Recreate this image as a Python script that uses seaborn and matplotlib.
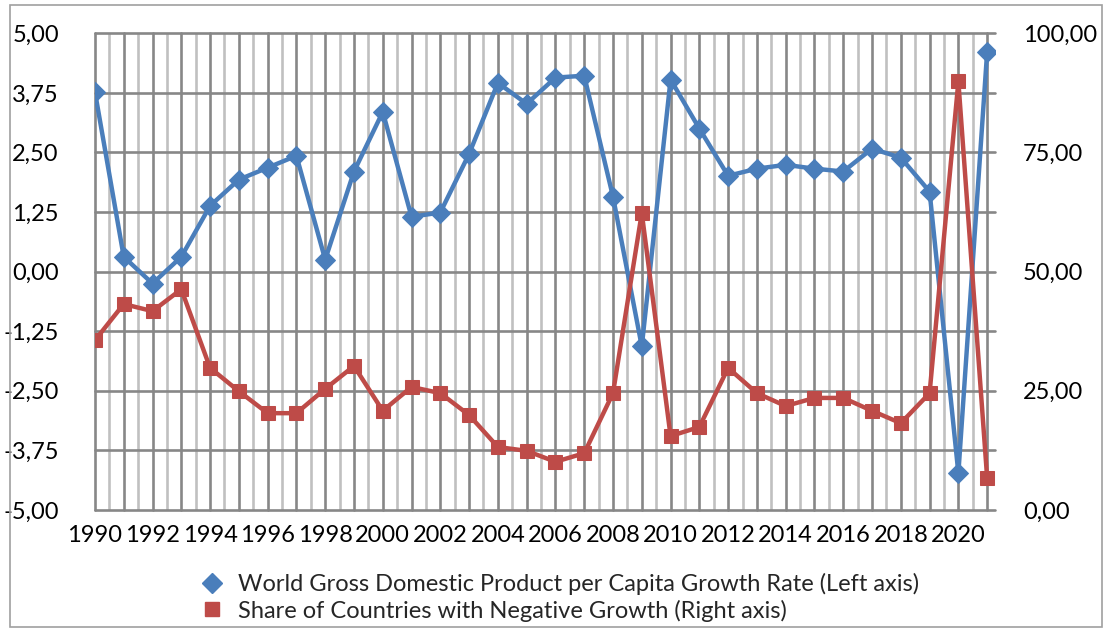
import numpy as np
import pandas as pd
import matplotlib
matplotlib.use("Agg")
import matplotlib.pyplot as plt
from matplotlib.ticker import MultipleLocator, FuncFormatter
from matplotlib.patches import Rectangle
from matplotlib.lines import Line2D
import seaborn as sns

# data
years = list(range(1990, 2022))
gdp_growth = [3.77, 0.31, -0.25, 0.31, 1.38, 1.93, 2.18, 2.43, 0.25, 2.10,
              3.35, 1.15, 1.24, 2.47, 3.96, 3.52, 4.07, 4.11, 1.57, -1.57,
              4.03, 3.00, 2.01, 2.16, 2.24, 2.16, 2.10, 2.58, 2.39, 1.68,
              -4.23, 4.61]
neg_share = [35.6, 43.2, 41.7, 46.3, 29.8, 24.9, 20.3, 20.3, 25.4, 30.2,
             20.8, 25.8, 24.5, 19.9, 13.2, 12.4, 10.1, 11.9, 24.5, 62.3,
             15.5, 17.4, 29.8, 24.5, 21.8, 23.5, 23.5, 20.8, 18.2, 24.5,
             89.9, 6.7]
label_gdp = 'World Gross Domestic Product per Capita Growth Rate (Left axis)'
label_neg = 'Share of Countries with Negative Growth (Right axis)'

df = pd.DataFrame({'year': years, 'gdp': gdp_growth, 'neg': neg_share})

#colours
BLUE = '#4A7EBB'
RED = '#BE4B48'
FS = 17

sns.set_style('white')
plt.rcParams['font.family'] = ['Lato', 'DejaVu Sans']

fig = plt.figure(figsize=(11.08, 6.28), dpi=100)
ax1 = fig.add_axes([0.0857, 0.188, 0.8125, 0.759])
ax2 = ax1.twinx()

sns.lineplot(data=df, x='year', y='gdp', ax=ax1, color=BLUE, lw=3.2,
             marker='D', markersize=10.5, markeredgecolor=BLUE, label=label_gdp,
             legend=False, zorder=3)
sns.lineplot(data=df, x='year', y='neg', ax=ax2, color=RED, lw=3.2,
             marker='s', markersize=10, markeredgecolor=RED, label=label_neg,
             legend=False, zorder=3)

#axes ranges
ax1.set_xlim(1990, 2021.28)
ax1.set_ylim(-5, 5)
ax2.set_ylim(0, 100)

comma = lambda v, p: f'{v:.2f}'.replace('.', ',')
ax1.yaxis.set_major_locator(MultipleLocator(1.25))
ax1.yaxis.set_major_formatter(FuncFormatter(comma))
ax2.yaxis.set_major_locator(MultipleLocator(25))
ax2.yaxis.set_major_formatter(FuncFormatter(comma))

ax1.set_xticks(years)
ax1.set_xticklabels([str(y) if y % 2 == 0 else '' for y in years])
ax1.xaxis.set_minor_locator(MultipleLocator(1, offset=0.5))

#grid
ax1.grid(which='major', axis='both', color='#878787', lw=1.9)
ax1.grid(which='minor', axis='x', color='#C0C0C0', lw=1.9)
ax1.set_axisbelow(True)
ax2.grid(False)
for gl in ax1.get_xgridlines() + ax1.get_ygridlines():
    gl.set_clip_on(False)

for ax in (ax1, ax2):
    for s in ax.spines.values():
        s.set_visible(False)
    ax.tick_params(which='both', length=0, labelsize=FS, colors='black')
    ax.set_xlabel('')
    ax.set_ylabel('')
ax1.tick_params(axis='y', pad=26)
ax2.tick_params(axis='y', pad=20)
ax1.tick_params(axis='x', pad=11)

#legend
handles = [Line2D([], [], ls='', marker='D', color=BLUE, markersize=10),
           Line2D([], [], ls='', marker='s', color=RED, markersize=10)]
fig.legend(handles, [label_gdp, label_neg], loc='upper center',
           bbox_to_anchor=(0.505, 0.103), frameon=False, fontsize=FS,
           handlelength=1.0, handletextpad=0.6, labelspacing=0.2,
           borderaxespad=0)

#outer border
fig.patches.append(Rectangle((0.009, 0.002), 0.986, 0.99, transform=fig.transFigure,
                             fill=False, ec='#A0A0A0', lw=1.2))

fig.savefig('out.png', dpi=100)
